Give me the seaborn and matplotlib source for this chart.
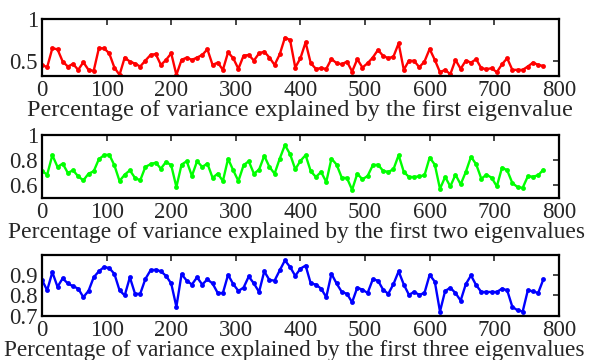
import numpy as np
import pandas as pd
import matplotlib
matplotlib.use('Agg')
import matplotlib.pyplot as plt
import seaborn as sns

# sample index (every 8th)
x_vals = np.arange(98) * 8

first_eig = [0.452, 0.425, 0.651, 0.639, 0.492, 0.433, 0.464, 0.393, 0.484, 0.393,
             0.381, 0.651, 0.651, 0.591, 0.421, 0.333, 0.540, 0.492, 0.468, 0.433,
             0.504, 0.571, 0.583, 0.452, 0.512, 0.591, 0.333, 0.512, 0.540, 0.512,
             0.540, 0.571, 0.639, 0.452, 0.480, 0.393, 0.603, 0.532, 0.405, 0.563,
             0.571, 0.504, 0.591, 0.611, 0.540, 0.452, 0.579, 0.778, 0.750, 0.421,
             0.532, 0.722, 0.472, 0.405, 0.413, 0.405, 0.524, 0.472, 0.460, 0.492,
             0.373, 0.520, 0.421, 0.472, 0.540, 0.631, 0.560, 0.532, 0.552, 0.710,
             0.393, 0.504, 0.500, 0.425, 0.492, 0.643, 0.512, 0.365, 0.393, 0.341,
             0.512, 0.405, 0.504, 0.480, 0.520, 0.413, 0.401, 0.413, 0.365, 0.460,
             0.532, 0.393, 0.393, 0.393, 0.433, 0.480, 0.452, 0.440]

first_two = [0.715, 0.685, 0.840, 0.747, 0.773, 0.699, 0.720, 0.672, 0.640, 0.693,
             0.712, 0.808, 0.840, 0.845, 0.760, 0.635, 0.685, 0.720, 0.659, 0.640,
             0.747, 0.768, 0.781, 0.733, 0.787, 0.760, 0.587, 0.765, 0.792, 0.675,
             0.792, 0.747, 0.773, 0.661, 0.693, 0.635, 0.811, 0.720, 0.635, 0.760,
             0.792, 0.693, 0.725, 0.835, 0.747, 0.693, 0.813, 0.920, 0.848, 0.728,
             0.795, 0.840, 0.712, 0.667, 0.707, 0.627, 0.813, 0.765, 0.661, 0.659,
             0.565, 0.693, 0.648, 0.675, 0.760, 0.765, 0.715, 0.707, 0.728, 0.840,
             0.707, 0.667, 0.667, 0.672, 0.680, 0.821, 0.765, 0.573, 0.667, 0.592,
             0.685, 0.608, 0.707, 0.827, 0.768, 0.653, 0.685, 0.661, 0.592, 0.741,
             0.720, 0.619, 0.587, 0.581, 0.672, 0.670, 0.680, 0.725]

first_three = [0.875, 0.825, 0.913, 0.842, 0.883, 0.858, 0.845, 0.833, 0.792, 0.822,
               0.888, 0.917, 0.938, 0.933, 0.905, 0.825, 0.800, 0.888, 0.808, 0.808,
               0.880, 0.922, 0.925, 0.917, 0.895, 0.858, 0.745, 0.903, 0.872, 0.853,
               0.888, 0.853, 0.878, 0.858, 0.812, 0.812, 0.900, 0.855, 0.822, 0.838,
               0.892, 0.858, 0.817, 0.917, 0.875, 0.872, 0.922, 0.970, 0.938, 0.895,
               0.930, 0.945, 0.858, 0.853, 0.833, 0.792, 0.905, 0.858, 0.817, 0.808,
               0.767, 0.838, 0.828, 0.812, 0.878, 0.872, 0.828, 0.808, 0.855, 0.917,
               0.853, 0.803, 0.817, 0.803, 0.812, 0.900, 0.867, 0.722, 0.822, 0.837,
               0.812, 0.775, 0.855, 0.897, 0.850, 0.817, 0.817, 0.817, 0.817, 0.833,
               0.825, 0.745, 0.728, 0.722, 0.825, 0.820, 0.812, 0.878]

labels = ['Percentage of variance explained by the first eigenvalue',
          'Percentage of variance explained by the first two eigenvalues',
          'Percentage of variance explained by the first three eigenvalues']
colors = ['#ff0000', '#00ff00', '#0000ff']
ylims = [(0.32, 1.0), (0.5, 1.0), (0.7, 0.995)]
yticks = [[0.5, 1], [0.6, 0.8, 1], [0.7, 0.8, 0.9]]
yticklabels = [['0.5', '1'], ['0.6', '0.8', '1'], ['0.7', '0.8', '0.9']]

sns.set_style('white')
plt.rcParams['font.family'] = ['Liberation Serif', 'DejaVu Serif']

fig = plt.figure(figsize=(5.9, 3.6), dpi=100)
# axes boxes in figure fractions
boxes = [[0.0712, 0.789, 0.876, 0.158],
         [0.0712, 0.450, 0.876, 0.175],
         [0.0712, 0.122, 0.876, 0.169]]
label_sizes = [17.5, 16.9, 16.7]
label_x = [0.5, 0.493, 0.489]

for i, series in enumerate([first_eig, first_two, first_three]):
    ax = fig.add_axes(boxes[i])
    df = pd.DataFrame({'x': x_vals, 'y': series})
    sns.lineplot(data=df, x='x', y='y', ax=ax, color=colors[i], linewidth=1.7,
                 marker='o', markersize=3.5, markeredgewidth=0)
    ax.set_xlim(0, 800)
    ax.set_ylim(*ylims[i])
    ax.set_xticks(range(0, 801, 100))
    ax.set_yticks(yticks[i])
    ax.set_yticklabels(yticklabels[i])
    ax.tick_params(direction='in', length=4, width=1.2, labelsize=16.5,
                   top=True, right=True, pad=3)
    for sp in ax.spines.values():
        sp.set_color('black')
        sp.set_linewidth(1.6)
    ax.set_xlabel(labels[i], fontsize=label_sizes[i], labelpad=-1)
    ax.xaxis.label.set_x(label_x[i])
    ax.set_ylabel('')

fig.savefig('out.png', dpi=100)
